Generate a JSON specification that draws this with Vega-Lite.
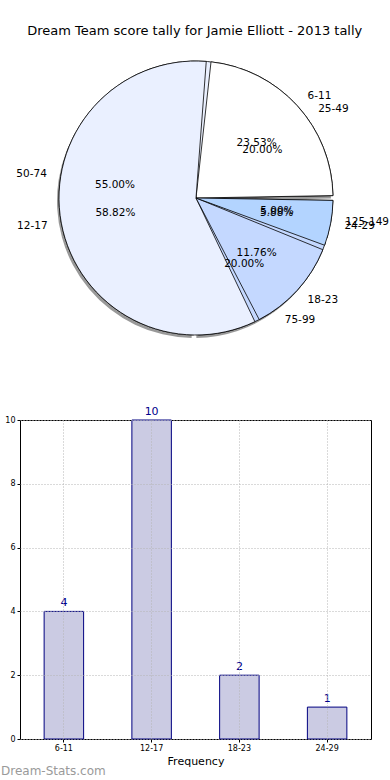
{
  "$schema": "https://vega.github.io/schema/vega-lite/v6.json",
  "padding": {"left": 0, "top": 25, "right": 0, "bottom": 0},
  "config": {"font": "DejaVu Sans", "view": {"stroke": null}},
  "title": {"text": "Dream Team score tally for Jamie Elliott - 2013 tally", "fontSize": 13, "fontWeight": "normal", "anchor": "middle", "offset": 12, "color": "black"},
  "datasets": {
    "pieA": [
      {"cat": "25-49", "n": 4, "pct": "20.00%", "i": 1},
      {"cat": "50-74", "n": 11, "pct": "55.00%", "i": 2},
      {"cat": "75-99", "n": 4, "pct": "20.00%", "i": 3},
      {"cat": "125-149", "n": 1, "pct": "5.00%", "i": 4}
    ],
    "pieB": [
      {"cat": "6-11", "n": 4, "pct": "23.53%", "i": 1},
      {"cat": "12-17", "n": 10, "pct": "58.82%", "i": 2},
      {"cat": "18-23", "n": 2, "pct": "11.76%", "i": 3},
      {"cat": "24-29", "n": 1, "pct": "5.88%", "i": 4}
    ],
    "bars": [
      {"cat": "6-11", "n": 4},
      {"cat": "12-17", "n": 10},
      {"cat": "18-23", "n": 2},
      {"cat": "24-29", "n": 1}
    ]
  },
  "spacing": 59,
  "vconcat": [
    {
      "width": 352,
      "height": 296,
      "encoding": {
        "theta": {"field": "n", "type": "quantitative", "stack": "normalize", "scale": {"range": [1.5708, -4.7124]}},
        "order": {"field": "i", "type": "quantitative"},
        "detail": {"field": "i", "type": "nominal"}
      },
      "layer": [
        {
          "data": {"name": "pieA"},
          "mark": {"type": "arc", "outerRadius": 137, "padAngle": 0.035, "fill": "#555555", "opacity": 0.6, "xOffset": -2, "yOffset": 3}
        },
        {
          "data": {"name": "pieA"},
          "mark": {"type": "arc", "outerRadius": 137, "padAngle": 0.035, "stroke": "black", "strokeWidth": 0.8},
          "encoding": {"color": {"field": "i", "type": "nominal", "scale": {"domain": [1, 2, 3, 4], "range": ["#ffffff", "#eaf0ff", "#c4d8ff", "#b3d4ff"]}, "legend": null}}
        },
        {
          "data": {"name": "pieB"},
          "mark": {"type": "arc", "outerRadius": 137, "padAngle": 0.035, "stroke": "black", "strokeWidth": 0.8},
          "encoding": {"color": {"field": "i", "type": "nominal", "scale": {"domain": [1, 2, 3, 4], "range": ["#ffffff", "#eaf0ff", "#c4d8ff", "#b3d4ff"]}, "legend": null}}
        },
        {
          "data": {"name": "pieA"},
          "mark": {"type": "text", "radius": 82, "align": "center", "baseline": "middle", "fontSize": 10.5, "color": "black"},
          "encoding": {"text": {"field": "pct"}}
        },
        {
          "data": {"name": "pieB"},
          "mark": {"type": "text", "radius": 82, "align": "center", "baseline": "middle", "fontSize": 10.5, "color": "black"},
          "encoding": {"text": {"field": "pct"}}
        },
        {
          "data": {"name": "pieA"},
          "mark": {"type": "text", "radius": 151, "align": "left", "baseline": "middle", "fontSize": 10.5, "color": "black"},
          "encoding": {"text": {"field": "cat"}, "opacity": {"condition": {"test": "datum.i == 2", "value": 0}, "value": 1}}
        },
        {
          "data": {"name": "pieB"},
          "mark": {"type": "text", "radius": 151, "align": "left", "baseline": "middle", "fontSize": 10.5, "color": "black"},
          "encoding": {"text": {"field": "cat"}, "opacity": {"condition": {"test": "datum.i == 2", "value": 0}, "value": 1}}
        },
        {
          "data": {"name": "pieA"},
          "mark": {"type": "text", "radius": 151, "align": "right", "baseline": "middle", "fontSize": 10.5, "color": "black"},
          "encoding": {"text": {"field": "cat"}, "opacity": {"condition": {"test": "datum.i == 2", "value": 1}, "value": 0}}
        },
        {
          "data": {"name": "pieB"},
          "mark": {"type": "text", "radius": 151, "align": "right", "baseline": "middle", "fontSize": 10.5, "color": "black"},
          "encoding": {"text": {"field": "cat"}, "opacity": {"condition": {"test": "datum.i == 2", "value": 1}, "value": 0}}
        }
      ]
    },
    {
      "width": 351,
      "height": 319,
      "data": {"name": "bars"},
      "view": {"stroke": "black", "strokeWidth": 1},
      "title": {"text": "Dream-Stats.com", "orient": "bottom", "anchor": "start", "frame": "bounds", "fontSize": 12, "color": "#9a9a9a", "fontWeight": "normal", "offset": 0},
      "encoding": {
        "x": {"field": "cat", "type": "nominal", "sort": null,
          "scale": {"paddingInner": 0.55, "paddingOuter": 0.275},
          "axis": {"title": "Frequency", "labelAngle": 0, "labelFontSize": 8, "labelColor": "black", "titleFontSize": 11, "titleFontWeight": "normal", "titleColor": "black", "titlePadding": 3, "grid": true, "gridDash": [1, 2], "gridColor": "#b5b5b5", "bandPosition": 0.5, "tickSize": 3, "tickColor": "black", "domain": false, "zindex": 1}},
        "y": {"field": "n", "type": "quantitative", "scale": {"domain": [0, 10], "nice": false},
          "axis": {"title": null, "values": [0, 2, 4, 6, 8, 10], "labelFontSize": 8, "labelColor": "black", "grid": true, "gridDash": [1, 2], "gridColor": "#b5b5b5", "tickSize": 3, "tickColor": "black", "labelPadding": 2, "domain": false, "minExtent": 19, "zindex": 1}}
      },
      "layer": [
        {"mark": {"type": "bar", "fill": "#cbcbe3", "stroke": "#000080", "strokeWidth": 1}},
        {"mark": {"type": "text", "dy": -3, "baseline": "bottom", "color": "#00008b", "fontSize": 11}, "encoding": {"text": {"field": "n", "type": "quantitative"}}}
      ]
    }
  ]
}
